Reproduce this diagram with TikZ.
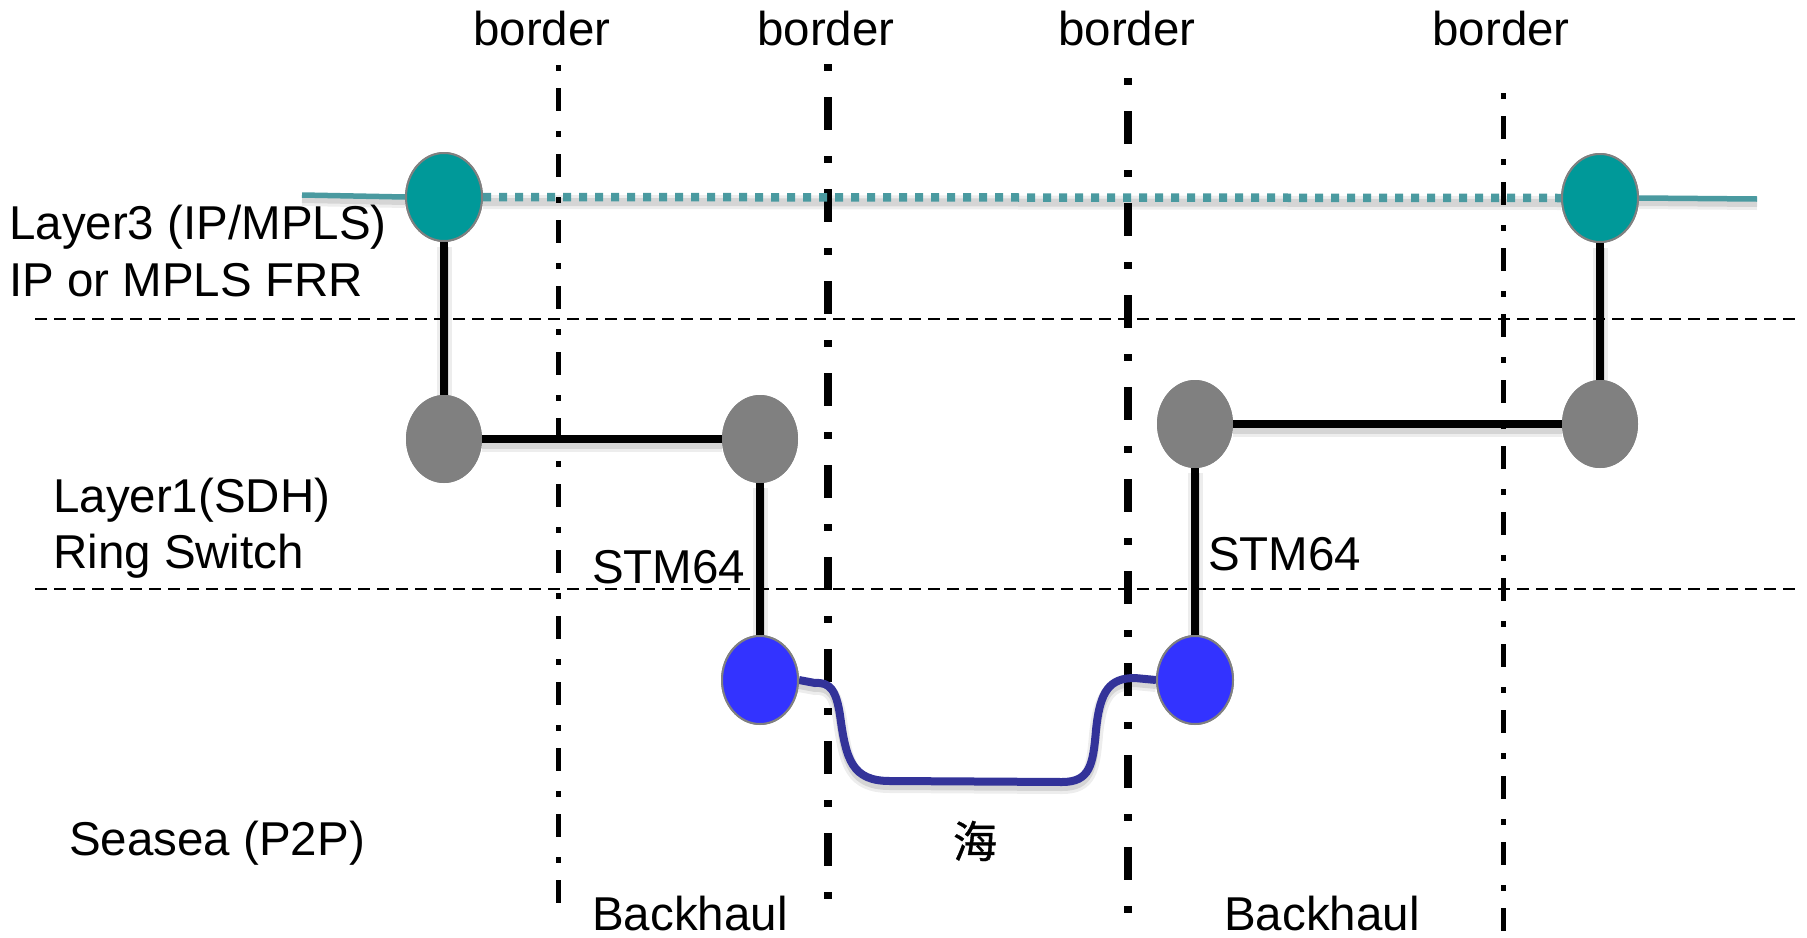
\documentclass[tikz,border=0pt]{standalone}
\usepackage{fontspec}
\setmainfont{Liberation Sans}
\newfontfamily\cjkfont{Noto Sans CJK SC}[FakeBold=0.8]
\usetikzlibrary{shapes.geometric}
\definecolor{tealfill}{HTML}{009999}
\definecolor{tealline}{HTML}{4A9AA0}
\definecolor{nodegray}{HTML}{808080}
\definecolor{bluefill}{HTML}{3333FF}
\definecolor{cable}{HTML}{333399}
\tikzset{
  x=1pt, y=-1pt,
  borderthin/.style={line width=5pt, dash pattern=on 6pt off 17pt on 23pt off 20pt},
  borderthick/.style={line width=7.5pt, dash pattern=on 7pt off 26pt on 33pt off 26pt},
  layersep/.style={line width=2pt, dash pattern=on 12pt off 7pt},
  lbl/.style={inner sep=0pt, font=\fontsize{47.5}{57}\selectfont},
  dev/.style={ellipse, minimum width=76pt, minimum height=88pt, inner sep=0pt},
  routernode/.style={dev, fill=tealfill, draw=nodegray, line width=2pt},
  sdhnode/.style={dev, fill=nodegray},
  wetnode/.style={dev, fill=bluefill, draw=nodegray, line width=2pt},
  softshadow/.style={
    preaction={draw=black, draw opacity=0.07, line width=#1+6pt, transform canvas={yshift=-5pt}},
    preaction={draw=black, draw opacity=0.10, line width=#1, transform canvas={yshift=-5pt}}},
  link/.style={line width=8.5pt, softshadow=9pt},
  l3solid/.style={line width=5.5pt, draw=tealline, softshadow=6pt},
  l3dotted/.style={line width=8.5pt, draw=tealline, dash pattern=on 8pt off 8pt, softshadow=8pt},
  cablelink/.style={line width=8pt, draw=cable, softshadow=8pt},
}
\begin{document}
\begin{tikzpicture}
\useasboundingbox (0,0) rectangle (1807,937);

% layer separators
\coordinate (sepAw) at (35,319);  \coordinate (sepAe) at (1798,319);
\coordinate (sepBw) at (35,589);  \coordinate (sepBe) at (1798,589);
\draw[layersep] (sepAw) -- (sepAe);
\draw[layersep] (sepBw) -- (sepBe);

% borders
\coordinate (b1t) at (558,65);   \coordinate (b1b) at (558,903);
\coordinate (b2t) at (828,64);   \coordinate (b2b) at (828,920);
\coordinate (b3t) at (1128,78);  \coordinate (b3b) at (1128,937);
\coordinate (b4t) at (1503,93);  \coordinate (b4b) at (1503,937);
\draw[borderthin]  (b1t) -- (b1b);
\draw[borderthick] (b2t) -- (b2b);
\draw[borderthick] (b3t) -- (b3b);
\draw[borderthin]  (b4t) -- (b4b);

\node[lbl] (bd1) at (542,29) {border};
\node[lbl] (bd2) at (826,29) {border};
\node[lbl] (bd3) at (1127,29) {border};
\node[lbl] (bd4) at (1501,29) {border};

% layer labels
\node[lbl, anchor=base west] (l3a) at (9,239) {Layer3 (IP/MPLS)};
\node[lbl, anchor=base west] (l3b) at (9,296) {IP or MPLS FRR};
\node[lbl, anchor=base west] (l1a) at (53,512) {Layer1(SDH)};
\node[lbl, anchor=base west] (l1b) at (53,568) {Ring Switch};
\node[lbl, anchor=base west] (l0a) at (69,855) {Seasea (P2P)};
\node[lbl, anchor=base west] (stmL) at (592,583) {STM64};
\node[lbl, anchor=base west] (stmR) at (1208,570) {STM64};
\node[lbl, anchor=base west] (bhL) at (592,930) {Backhaul};
\node[lbl, anchor=base west] (bhR) at (1224,930) {Backhaul};
\node[lbl, font=\cjkfont\fontsize{44}{50}\selectfont] (sea) at (975,841) {海};

% devices
\node[routernode] (t1) at (444,197) {};
\node[routernode] (t2) at (1600,198) {};
\node[sdhnode] (g1) at (444,439) {};
\node[sdhnode] (g2) at (760,439) {};
\node[sdhnode] (g3) at (1195,424) {};
\node[sdhnode] (g4) at (1600,424) {};
\node[wetnode] (w1) at (760,680) {};
\node[wetnode] (w2) at (1195,680) {};

% IP layer
\coordinate (l3w) at (302,195);
\coordinate (l3e) at (1757,199);
\draw[l3solid] (l3w) -- (t1.west);
\draw[l3solid] (t2.east) -- (l3e);
\draw[l3dotted] (t1.east) -- (t2.west);

% SDH links
\draw[link] (t1) -- (g1);
\draw[link] (g1) -- (g2);
\draw[link] (g2) -- (w1);
\draw[link] (t2) -- (g4);
\draw[link] (g3) -- (g4);
\draw[link] (g3) -- (w2);

% submarine cable
\draw[cablelink] (w1.east) -- (815,683)
  .. controls (830,682) and (836,690) .. (840,715)
  .. controls (846,760) and (852,781) .. (890,781)
  -- (1062,782)
  .. controls (1090,782) and (1093,765) .. (1096,730)
  .. controls (1100,690) and (1110,678) .. (1135,678)
  -- (w2.west);

% redraw devices above the links
\node[routernode] at (t1) {};
\node[routernode] at (t2) {};
\node[sdhnode] at (g1) {};
\node[sdhnode] at (g2) {};
\node[sdhnode] at (g3) {};
\node[sdhnode] at (g4) {};
\node[wetnode] at (w1) {};
\node[wetnode] at (w2) {};
\end{tikzpicture}
\end{document}
